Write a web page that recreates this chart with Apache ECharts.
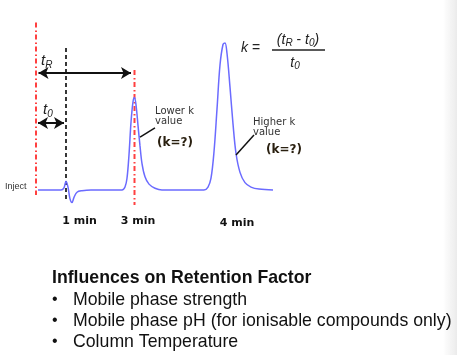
<!DOCTYPE html>
<html><head><meta charset="utf-8">
<script src="https://cdn.jsdelivr.net/npm/echarts@6/dist/echarts.min.js"></script>
<style>html,body{margin:0;padding:0;background:#fff}#c{width:457px;height:355px}</style>
</head><body><div id="c"></div>
<script>
// chromatogram trace (time in arbitrary display units, signal in relative units)
const times  = [0.2, 2.5, 2.8, 3.0, 3.2, 3.4, 3.6, 3.8, 4.1, 4.6, 5.5, 8.6, 8.9, 9.1, 9.3, 9.5, 9.7, 9.85, 10.0, 10.2, 10.4, 10.6, 10.9, 11.3, 11.9, 12.6, 16.8, 17.2, 17.5, 17.8, 18.1, 18.4, 18.7, 18.9, 19.1, 19.4, 19.7, 20.0, 20.4, 20.9, 21.5, 22.3, 23.7];
const signal = [0, 0, 1.5, 6, 2, -6, -8.5, -5, -1.5, -0.5, 0, 0, 2, 8, 24, 46, 60, 63, 58, 44, 30, 18, 9, 4, 1.2, 0, 0, 2, 8, 26, 55, 85, 99, 100, 93, 70, 45, 25, 12, 5, 2, 0.6, 0];
const injectTime = 0;
const deadTime = 3.0;     // t0
const peak1Time = 9.85;   // tR
const peak2Time = 18.9;
const tickLabels = ['1 min', '3 min', '4 min'];
const tickTimes = [4.35, 10.2, 20.1];
const bulletTitle = 'Influences on Retention Factor';
const bulletItems = ['Mobile phase strength', 'Mobile phase pH (for ionisable compounds only)', 'Column Temperature'];

const chart = echarts.init(document.getElementById('c'), null, {renderer: 'canvas'});
const trace = times.map((t, i) => [t, signal[i]]);

function vline(x, yTop, yBot, style) {
  return {type: 'line', data: [[x, yTop], [x, yBot]], symbol: 'none', clip: false, silent: true,
    lineStyle: style, z: 1};
}
const redA = {color: '#ff4040', width: 2, type: [5, 7], dashOffset: 0};
const redB = {color: '#ff4040', width: 2, type: [1.5, 10.5], dashOffset: -8};
const option = {
  animation: false,
  grid: {left: 36, top: 13.6, width: 240, height: 194.04},
  xAxis: {type: 'value', min: 0, max: 24, show: false},
  yAxis: {type: 'value', min: -12, max: 120, show: false},
  series: [
    vline(injectTime, 114, -3.4, redA),
    vline(injectTime, 114, -3.4, redB),
    vline(deadTime, 96.6, -6.8, {color: '#222', width: 1.8, type: [4, 3]}),
    vline(peak1Time, 81.6, -10.2, redA),
    vline(peak1Time, 81.6, -10.2, redB),
  {
    type: 'line',
    data: trace,
    smooth: 0.35,
    symbol: 'none',
    clip: false,
    z: 2,
    lineStyle: {color: '#6b6bff', width: 1.5},
    markLine: {
      silent: true,
      symbol: ['none', 'none'],
      label: {show: false},
      lineStyle: {color: '#111', width: 1.5, type: 'solid'},
      data: [
        [{coord: [10.4, 36]}, {coord: [11.9, 42.2]}],
        [{coord: [20.0, 23.8]}, {coord: [21.8, 37.4]}]
      ]
    }
  }, {
    type: 'line',
    data: [],
    markLine: {
      silent: true,
      symbol: ['arrow', 'arrow'],
      symbolSize: [9, 10],
      label: {show: false},
      lineStyle: {color: '#111', width: 2, type: 'solid'},
      data: [
        [{coord: [injectTime + 0.25, 79.6]}, {coord: [peak1Time - 0.35, 79.6]}],
        [{coord: [injectTime + 0.2, 45.6]}, {coord: [deadTime - 0.2, 45.6]}]
      ]
    }
  }]
};
chart.setOption(option);

const sans = 'DejaVu Sans';
const arial = 'Liberation Sans, Arial';
const graphics = [];
function txt(x, y, text, style, extra) {
  graphics.push(Object.assign({type: 'text', x: x, y: y, silent: true,
    style: Object.assign({text: text, fill: '#222', verticalAlign: 'middle'}, style)}, extra || {}));
}
// tick labels
tickLabels.forEach((lab, i) => {
  const p = chart.convertToPixel({gridIndex: 0}, [tickTimes[i], 0]);
  txt(p[0], i === 2 ? 223 : 221, lab, {font: 'bold 11px ' + sans, fill: '#111', align: 'center'});
});
txt(5, 187, 'Inject', {font: '9px ' + arial, fill: '#333'});
txt(155, 111, 'Lower k', {font: '10px ' + sans, fill: '#333'});
txt(155, 121, 'value', {font: '10px ' + sans, fill: '#333'});
txt(157, 143, '(k=?)', {font: 'bold 12px ' + sans, fill: '#2a2010'});
txt(253, 122, 'Higher k', {font: '10px ' + sans, fill: '#333'});
txt(253, 132, 'value', {font: '10px ' + sans, fill: '#333'});
txt(266, 150, '(k=?)', {font: 'bold 12px ' + sans, fill: '#2a2010'});
// t labels
const rich = {
  i: {fontFamily: arial, fontStyle: 'italic', fontSize: 15, fill: '#222'},
  s: {fontFamily: arial, fontStyle: 'italic', fontSize: 10, fill: '#222', padding: [8, 0, 0, 0]}
};
graphics.push({type: 'text', x: 41, y: 61, silent: true, style: {text: '{i|t}{s|R}', rich: rich, verticalAlign: 'middle'}});
graphics.push({type: 'text', x: 43, y: 110, silent: true, style: {text: '{i|t}{s|0}', rich: rich, verticalAlign: 'middle'}});
// formula
const frich = {
  i: {fontFamily: arial, fontStyle: 'italic', fontSize: 14, fill: '#222'},
  n: {fontFamily: arial, fontSize: 14, fill: '#222'},
  s: {fontFamily: arial, fontStyle: 'italic', fontSize: 10, fill: '#222', padding: [7, 0, 0, 0]}
};
graphics.push({type: 'text', x: 241, y: 48, silent: true, style: {text: '{i|k}{n| =}', rich: frich, verticalAlign: 'middle'}});
graphics.push({type: 'text', x: 298, y: 40, silent: true, style: {text: '{i|(t}{s|R}{n| - }{i|t}{s|0}{i|)}', rich: frich, verticalAlign: 'middle', align: 'center'}});
graphics.push({type: 'line', silent: true, shape: {x1: 272, y1: 50, x2: 325, y2: 50}, style: {stroke: '#222', lineWidth: 1.3}});
graphics.push({type: 'text', x: 295, y: 63, silent: true, style: {text: '{i|t}{s|0}', rich: frich, verticalAlign: 'middle', align: 'center'}});
// bullet block
txt(52, 278, bulletTitle, {font: 'bold 17.7px ' + arial, fill: '#111'});
bulletItems.forEach((b, i) => {
  const y = 300 + i * 21;
  txt(52, y, '\u2022', {font: '16px ' + arial, fill: '#111'});
  txt(73, y, b, {font: '17.7px ' + arial, fill: '#111'});
});
// right edge shade
graphics.push({type: 'rect', silent: true, shape: {x: 443, y: 0, width: 14, height: 355},
  style: {fill: new echarts.graphic.LinearGradient(0, 0, 1, 0, [{offset: 0, color: 'rgba(235,235,235,0)'}, {offset: 1, color: 'rgba(235,235,235,1)'}])}, z: -1});
chart.setOption({graphic: graphics});
</script>
</body></html>
